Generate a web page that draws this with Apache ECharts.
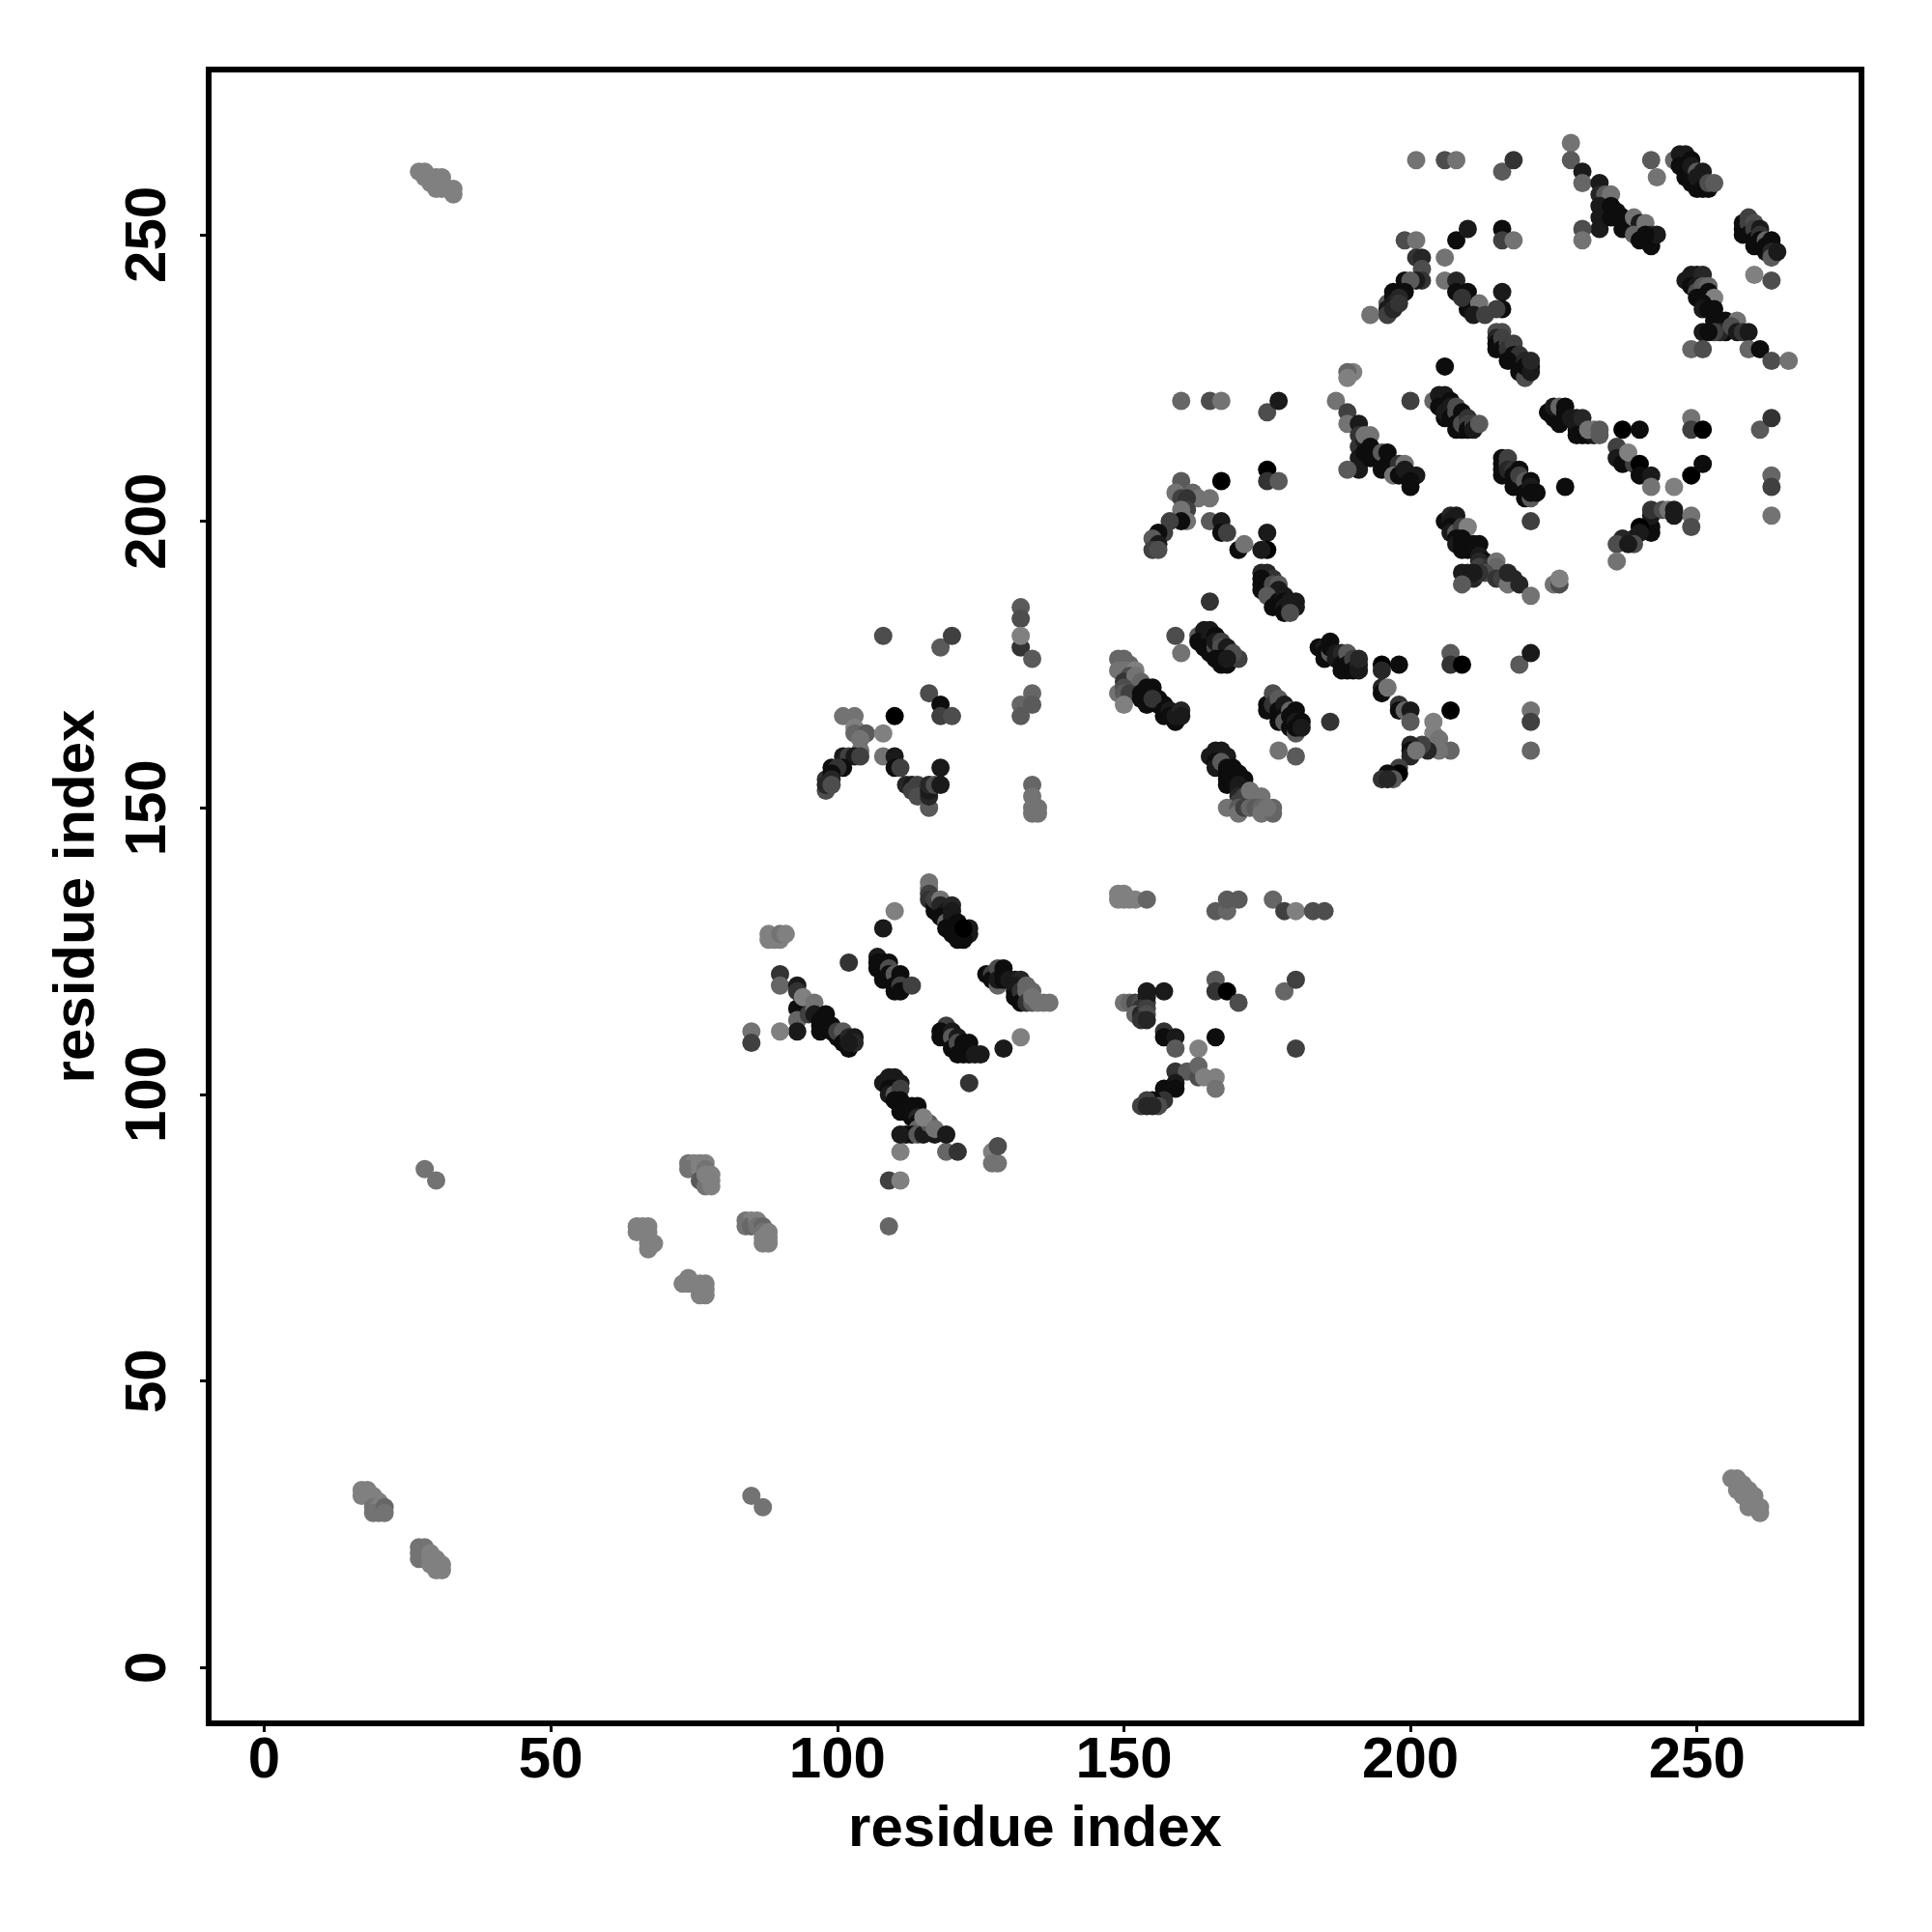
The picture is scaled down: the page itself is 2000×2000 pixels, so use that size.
<!DOCTYPE html>
<html><head><meta charset="utf-8">
<script src="https://cdn.jsdelivr.net/npm/echarts@6/dist/echarts.min.js"></script>
<style>html,body{margin:0;background:#fff}#c{width:2000px;height:2000px}</style></head>
<body><div id="c"></div>
<script>
// each contact: [residue i, residue j, strength 0 (weak) .. 10 (strong)]
const tickValues = [0, 50, 100, 150, 200, 250];
const axisTitle = 'residue index';
const farContacts = [[17,31,0],[18,31,0],[17,30,0],[18,30,0],[19,30,0],[19,29,0],[20,29,0],[19,28,1],[20,28,0],[19,27,1],[20,27,1],[21,28,2],[21,27,1],
[27,21,1],[28,21,1],[27,20,1],[28,20,1],[27,19,1],[28,19,1],[29,20,0],[29,19,0],[29,18,0],[30,19,0],[30,18,0],[30,17,0],[31,18,0],[31,17,0],
[85,30,1],[87,28,1],[28,87,1],[30,85,1],
[256,33,0],[257,33,0],[257,32,0],[258,32,0],[257,31,0],[258,31,0],[259,31,0],[258,30,0],[259,30,0],[260,30,0],[259,29,0],[260,29,0],[259,28,0],[260,28,0],[261,28,0],[261,27,0],
[27,261,0],[28,261,0],[28,260,0],[29,260,0],[29,259,0],[30,260,0],[31,260,0],[30,258,0],[31,259,0],[31,258,0],[32,258,0],[33,258,0],[33,257,0]];
const lowContacts = [[65,77,0],[66,77,0],[67,77,0],[65,76,0],[66,76,0],[67,76,0],[67,75,0],[67,74,0],[68,74,0],[67,73,0],
[74,68,0],[73,67,0],[74,67,0],[75,67,0],[76,67,0],[77,67,0],[76,66,0],[77,66,0],[76,65,0],[77,65,0],
[74,88,1],[75,88,0],[74,87,1],[76,88,0],[76,87,0],[77,88,0],[77,87,1],[76,85,3],[77,85,3],[77,84,1],[77,86,0],[78,85,0],[78,84,0],[78,86,0],
[84,78,1],[85,78,0],[84,77,1],[85,77,2],[86,78,0],[86,77,1],[87,77,2],[87,76,1],[88,76,0],[87,75,0],[88,75,0],[87,74,0],[88,74,0],
[109,77,2],[109,85,5],[111,85,0],[111,90,0],[119,90,2],[121,90,6],[127,90,0],[127,88,1],[128,88,1],[128,91,4]];
const bandA = [[88,128,0],[88,127,0],[89,127,0],[90,127,0],[90,128,1],[91,128,0],[90,121,6],[90,119,2],
[93,119,8],[93,118,6],[94,116,8],[93,115,9],[95,115,9],[93,113,2],[93,111,8],[95,114,5],[94,117,0],[96,116,1],[96,115,1],[96,114,8],[97,113,9],[98,114,9],[98,113,9],[97,112,9],[97,111,9],[99,112,9],[99,111,9],[100,110,9],[100,111,5],[101,111,3],[101,109,9],[102,110,7],[102,108,9],[103,110,8],[103,109,7],[102,109,8],
[85,111,1],[85,109,5],[90,111,0],[102,123,6],
[107,124,8],[107,123,9],[107,122,9],[108,123,9],[108,121,9],[109,123,9],[109,122,4],[108,120,9],[109,121,9],[110,121,3],[110,119,9],[110,118,9],[111,121,9],[111,120,9],[111,119,5],[111,118,9],[113,119,5],
[108,129,8],[110,132,0]];
const bandB = [[116,137,1],[116,136,1],[116,135,5],[116,134,6],[117,132,9],[117,133,9],[117,134,5],[118,134,1],[118,133,7],[119,132,8],[118,131,9],[119,131,9],[119,130,2],[120,133,7],[120,132,8],[120,131,8],[119,129,9],[120,129,9],[120,128,9],[121,130,9],[121,129,9],[123,129,8],[121,128,9],[122,128,4],[123,128,8],[121,127,9],[122,127,9],[122,129,10],
[108,102,8],[109,103,8],[110,103,8],[110,102,8],[111,102,8],[109,101,9],[110,101,9],[109,100,8],[110,100,3],[111,101,5],[110,99,9],[111,99,9],[111,98,9],[112,98,9],[111,97,9],[113,98,9],[114,98,9],[112,97,9],[113,96,9],[113,97,9],[114,96,7],[114,95,9],[115,94,8],[114,94,2],[113,93,8],[112,93,9],[111,93,8],[114,93,3],[115,93,8],[116,94,8],[116,95,3],[117,93,8],[115,96,0],[117,94,1],[119,93,8],
[119,112,5],[118,111,9],[118,110,9],[120,111,8],[120,110,3],[120,108,9],[121,110,8],[121,109,4],[122,109,9],[122,108,9],[123,107,9],[122,107,9],[121,107,9],[123,109,9],[124,107,8],[125,107,8],[129,108,8],[132,110,0],[123,102,6],
[126,121,9],[127,121,5],[127,120,9],[128,122,4],[128,119,2],[128,120,8],[129,122,9],[129,121,9],[129,120,9],[130,120,8],[131,120,8],[132,120,7],[131,118,9],[131,119,8],[131,117,9],[132,118,6],[132,116,9],[133,119,2],[133,118,2],[133,116,6],[134,116,3],[134,118,2],[134,117,1],[135,116,1],[136,116,1],[137,116,1]];
const bandC = [[149,135,0],[150,135,0],[149,134,0],[150,134,0],[151,134,0],[152,134,0],[154,134,2],[166,132,3],[168,132,2],[168,134,3],[170,134,3],[176,134,2],[178,132,5],[180,132,0],[183,132,4],[185,132,4],
[150,116,1],[151,116,2],[152,116,5],[153,116,4],[154,116,5],[154,118,8],[157,118,8],[154,117,8],[153,115,6],[152,114,2],[153,114,7],[154,115,5],[154,114,4],[153,113,6],[154,113,7],
[157,111,6],[157,110,9],[159,110,8],[159,108,3],[163,108,0],[166,110,9],[159,104,6],[161,104,3],[163,103,4],[163,105,2],[164,103,0],[166,103,0],[166,101,1],[159,102,8],[159,101,9],[157,101,9],[157,99,6],[155,99,9],[153,98,5],[154,99,5],[156,98,4],[154,98,7],[155,98,7],
[166,120,3],[166,118,6],[168,118,10],[170,116,4],[178,118,2],[180,120,5],[180,108,5],
[108,180,4],[118,178,3],[120,180,5],[132,185,3],[132,183,4],[132,178,6],[132,180,0],[134,176,3],[134,170,2],[132,168,2],[134,168,3],[132,166,3],[116,170,4],[118,168,9],[118,166,5],[120,166,4],
[101,166,1],[103,166,1],[103,164,0],[103,163,2],[105,163,3],[104,162,1],[108,163,0],[108,159,1],[110,166,10],[110,159,8],[110,157,9],[111,157,5],[104,160,1],[101,159,8],[102,159,5],[103,159,8],[104,159,5],[101,157,9],[99,157,9],[100,157,6],[98,155,6],[99,156,9],[99,155,7],[98,153,4],[98,154,7],[99,154,4],
[118,157,8],[112,154,7],[113,154,8],[114,154,5],[113,153,5],[114,152,4],[116,150,3],[116,152,7],[116,153,8],[116,154,7],[117,154,4],[118,154,8],[134,154,2],[134,152,1],[134,150,1],[135,150,1],[134,149,1],[135,149,1]];
const bandD = [[165,186,6],[159,180,4],[160,177,1],[163,180,3],[164,181,8],[165,181,8],[163,179,9],[164,179,9],[165,180,8],[166,180,9],[164,178,9],[165,177,9],[166,178,4],[166,179,8],[167,179,5],[167,178,4],[168,178,8],[166,176,9],[167,175,9],[168,175,9],[167,176,9],[170,176,5],[169,177,4],[168,176,8],
[184,178,9],[185,178,8],[185,177,9],[185,176,9],[186,177,3],[186,179,9],[186,178,9],[187,177,8],[187,176,8],[188,176,8],[188,177,7],[188,175,9],[188,174,9],[189,177,3],[189,175,9],[189,174,9],[190,176,5],[190,174,9],[191,175,7],[191,174,8],[191,176,7],
[149,176,2],[150,176,2],[151,175,2],[149,174,1],[150,174,1],[151,174,1],[152,174,0],[151,173,4],[150,172,6],[151,171,6],[152,172,9],[152,171,8],[152,173,1],[153,172,2],[149,170,1],[150,171,4],[150,170,3],[151,170,5],[150,168,0],[153,170,9],[153,169,9],[154,171,9],[155,171,9],[155,170,9],[154,168,9],[156,168,9],[156,169,9],[157,168,9],[155,169,6],[157,167,9],[157,166,9],[158,167,8],[158,166,9],[159,165,9],[159,166,8],[160,167,7],[160,166,8],
[175,168,9],[175,167,9],[176,170,4],[176,168,6],[177,169,3],[177,167,9],[177,165,9],[178,168,8],[178,166,9],[178,165,3],[179,167,2],[179,164,9],[179,166,9],[180,167,9],[180,165,8],[180,163,3],[180,164,9],[181,165,9],[181,164,8],[177,160,1],[180,159,3],[186,165,6],
[165,159,8],[166,160,8],[167,160,8],[167,159,8],[168,159,8],[166,158,9],[166,157,8],[167,158,3],[168,157,9],[169,157,9],[168,156,9],[168,155,9],[169,155,9],[170,155,9],[171,155,9],[170,156,9],[168,154,9],[169,154,9],[170,154,8],[170,153,8],[170,152,7],[171,152,5],[170,151,5],[172,152,5],[172,153,1],[174,152,1],[168,150,1],[170,150,3],[170,149,1],[171,150,5],[172,150,2],[173,150,3],[174,150,2],[174,149,1],[176,150,2],[176,149,2],[175,150,1]];
const bandE = [[195,175,10],[198,175,9],[195,174,7],[207,177,3],[207,175,6],[209,175,10],[219,175,3],[221,177,8],[195,171,7],[195,170,9],[196,171,1],[198,168,6],[198,167,9],[199,167,2],[200,167,8],[200,165,3],[207,167,10],
[204,165,0],[204,163,0],[205,162,1],[207,160,2],[205,160,1],[203,160,7],[202,161,5],[200,161,7],[200,160,9],[200,159,7],[201,160,1],[198,157,5],[198,156,10],[196,156,9],[195,155,6],[197,155,3],[196,155,7],[221,167,1],[221,165,5],[221,160,2],
[190,226,0],[189,226,2],[189,225,0],[187,221,1],[189,219,5],[189,217,1],[191,217,8],[191,215,6],[191,213,6],[191,211,8],[191,209,8],[189,209,3],[192,214,8],[192,215,1],[193,215,1],[193,211,9],[192,212,9],[193,213,9],[195,209,9],[194,211,9],[195,212,3],[196,212,9],[196,210,9],[198,210,6],[197,208,1],[198,208,9],[199,210,1],[199,209,8],[200,206,9],[201,208,8],[200,208,8],[200,207,9],
[200,221,5],[206,227,9],[204,221,2],[205,222,8],[206,222,8],[205,220,9],[206,220,9],[206,218,9],[207,221,9],[206,219,8],[207,220,8],[207,218,9],[208,220,4],[208,219,4],[209,219,9],[208,217,9],[208,216,9],[209,216,9],[209,217,4],[210,218,6],[210,217,5],[210,216,9],[211,217,5],[211,216,8],[212,217,3],
[224,219,9],[225,218,9],[225,220,8],[226,220,2],[226,217,9],[227,220,9],[227,219,9],[227,218,9],[228,218,8],[229,216,9],[229,217,8],[229,218,8],[230,218,7],[229,215,9],[230,215,9],[231,215,9],[232,215,8],[231,216,1],[232,216,1],[233,215,3],[233,216,3],[237,216,10],[240,216,9],
[216,211,9],[216,210,9],[216,209,9],[216,208,9],[217,211,5],[217,210,5],[217,209,7],[218,209,6],[218,208,9],[218,206,9],[219,209,9],[219,208,5],[220,207,3],[220,204,9],[220,205,9],[221,207,9],[221,206,8],[221,204,3],[221,205,9],[222,205,9],[227,206,9],[221,200,5]];
const bandF = [[206,200,9],[207,201,7],[208,201,8],[207,200,8],[208,200,8],[207,199,9],[207,198,8],[208,198,3],[209,199,5],[210,199,0],[208,197,9],[208,196,8],[209,197,9],[209,196,9],[209,195,9],[210,195,9],[211,196,9],[212,196,9],[211,195,9],[212,194,8],[213,193,9],[212,193,7],[212,192,5],[214,192,6],[215,193,1],[215,192,2],[213,191,4],[211,190,7],[212,191,6],[210,191,7],[209,191,8],[211,191,8],[209,189,3],[215,190,6],[216,190,5],[218,190,7],[217,189,1],[217,191,7],[219,189,7],[221,187,1],[225,189,1],[226,189,4],[226,190,0],
[236,213,5],[236,211,8],[237,210,9],[239,210,5],[238,212,0],[240,210,10],[240,208,9],[242,208,8],[242,206,1],[246,206,0],[249,208,10],[251,210,9],[263,208,2],[263,206,5],[263,201,1],[249,218,1],[249,216,5],[251,216,10],[261,216,3],[263,218,6],
[242,199,9],[242,198,9],[242,201,8],[242,202,6],[244,202,4],[245,202,1],[246,202,8],[246,201,8],[249,201,1],[249,199,4],[240,199,10],[240,198,8],[239,197,8],[237,197,7],[236,196,4],[239,196,4],[238,196,8],[236,193,1],
[228,266,1],[228,263,3],[230,261,8],[230,259,2],[233,259,8],[233,257,7],[234,257,3],[235,257,1],[233,255,8],[233,253,8],[233,251,8],[230,251,4],[230,249,1],[235,255,9],[235,253,9],[237,253,9],[237,251,9],[236,254,9],[238,252,9],[239,251,9],[239,253,1],[240,252,8],[239,250,2],[240,249,9],[241,252,1],[242,250,6],[242,248,9],[243,250,8],[241,250,9],
[242,263,3],[243,260,1],[246,263,2],[247,264,8],[248,264,8],[247,262,9],[248,260,9],[249,263,9],[249,262,8],[249,259,9],[250,258,9],[250,261,3],[251,261,8],[250,260,8],[251,258,9],[252,258,9],[252,259,4],[253,259,3],
[258,252,9],[258,251,9],[258,250,9],[259,253,5],[259,252,5],[259,250,9],[260,252,4],[260,251,5],[260,249,9],[260,248,9],[261,251,8],[261,250,6],[261,249,9],[262,249,2],[262,248,9],[262,247,9],[263,249,9],[263,248,9],[263,247,7],[263,246,3],[264,247,8],[260,243,0],[263,242,4]];
const bandG = [[248,242,8],[249,243,8],[250,243,8],[251,243,7],[249,241,9],[250,241,8],[250,240,4],[251,241,3],[252,241,2],[250,239,9],[251,239,9],[252,240,9],[253,239,0],[251,238,9],[251,237,8],[252,237,9],[253,237,9],[253,236,9],[254,235,9],[254,234,7],[255,235,9],[253,234,9],[253,235,9],[255,233,9],[254,233,7],[253,233,5],[251,233,8],[252,233,9],[257,235,1],[256,234,4],[257,233,8],[258,233,6],[259,233,8],[249,230,2],[251,230,4],[259,230,2],[261,230,9],[263,228,4],[266,228,1],
[201,263,1],[206,263,4],[208,263,1],[216,261,3],[218,263,6],[199,249,4],[201,249,1],[208,249,9],[210,251,8],[216,251,9],[216,249,5],[218,249,1],[206,246,1],[201,246,6],[202,246,7],[202,244,4],[202,242,6],[206,242,1],[208,242,7],[201,242,8],[199,242,9],[200,242,3],[199,240,9],[197,240,9],[208,240,9],[210,240,9],[216,240,8],[216,237,9],[215,237,5],[210,237,9],[209,239,6],[212,238,1],[211,236,8],[213,236,5],[193,236,1],[196,238,3],[196,237,8],[196,236,5],[197,239,9],[197,238,8],[197,237,7],[198,239,7],[198,238,6],
[215,233,4],[216,233,4],[215,232,7],[215,231,9],[215,230,9],[216,231,8],[216,232,5],[216,230,9],[217,231,5],[217,229,9],[218,230,7],[217,230,6],[218,231,5],[218,229,9],[218,228,9],[219,229,6],[217,228,9],[219,227,9],[220,228,7],[220,226,9],[219,226,9],[220,225,4],[220,227,9],[221,227,9],[221,226,8],[221,228,7],
[160,221,2],[165,221,4],[167,221,1],[175,219,4],[177,221,8],[160,207,3],[167,207,10],[175,209,10],[175,207,6],[177,207,3],[159,205,1],[162,205,2],[163,204,1],[165,204,1],[160,204,5],[161,204,6],[161,202,5],[160,202,1],[161,200,1],[160,200,9],[158,200,5],[157,198,5],[156,198,9],[155,197,3],[156,196,8],[155,195,5],[156,195,4],
[165,200,3],[167,200,8],[167,198,9],[168,198,5],[170,195,9],[171,196,1],[175,198,8],[175,195,10],[174,195,8],
[174,191,7],[175,191,7],[176,190,6],[174,190,9],[174,189,9],[174,188,9],[175,189,9],[175,188,9],[176,189,4],[177,189,3],[176,187,8],[176,186,9],[177,188,8],[177,187,8],[175,187,3],[176,185,9],[177,186,9],[178,187,8],[178,186,9],[178,185,8],[178,184,9],[179,186,8],[179,185,8],[180,186,8],[180,185,8],[179,184,4]];
const contacts = [].concat(farContacts, lowContacts, bandA, bandB, bandC, bandD, bandE, bandF, bandG);

const labelFont = { fontFamily: 'Liberation Sans', fontWeight: 'bold', fontSize: 60, color: '#000' };
const makeAxis = (extra) => Object.assign({
  type: 'value', min: -9.7, splitLine: { show: false }, axisLine: { show: false, onZero: false },
  axisTick: { show: true, length: 9, lineStyle: { color: '#000', width: 3 }, customValues: tickValues },
  name: axisTitle, nameLocation: 'middle', nameTextStyle: labelFont
}, extra);
const chart = echarts.init(document.getElementById('c'), null, { renderer: 'canvas' });
chart.setOption({
  animation: false, backgroundColor: '#fff',
  grid: { left: 216, right: 73, top: 72, bottom: 216, show: true, borderColor: '#000', borderWidth: 6, backgroundColor: 'transparent' },
  xAxis: makeAxis({ max: 278.7, nameGap: 80, axisLabel: Object.assign({ customValues: tickValues, margin: 9 }, labelFont) }),
  yAxis: makeAxis({ max: 278.8, nameGap: 106, nameRotate: 90, axisLabel: Object.assign({ customValues: tickValues, rotate: 90, margin: 32 }, labelFont) }),
  series: [{
    type: 'scatter', symbol: 'circle', symbolSize: 19, data: contacts.map(c => [c[0], c[1], c[2]]),
    itemStyle: { opacity: 1, color: p => { const g = Math.round(128 - 12.8 * p.value[2]); return `rgb(${g},${g},${g})`; } }
  }]
});
</script></body></html>
